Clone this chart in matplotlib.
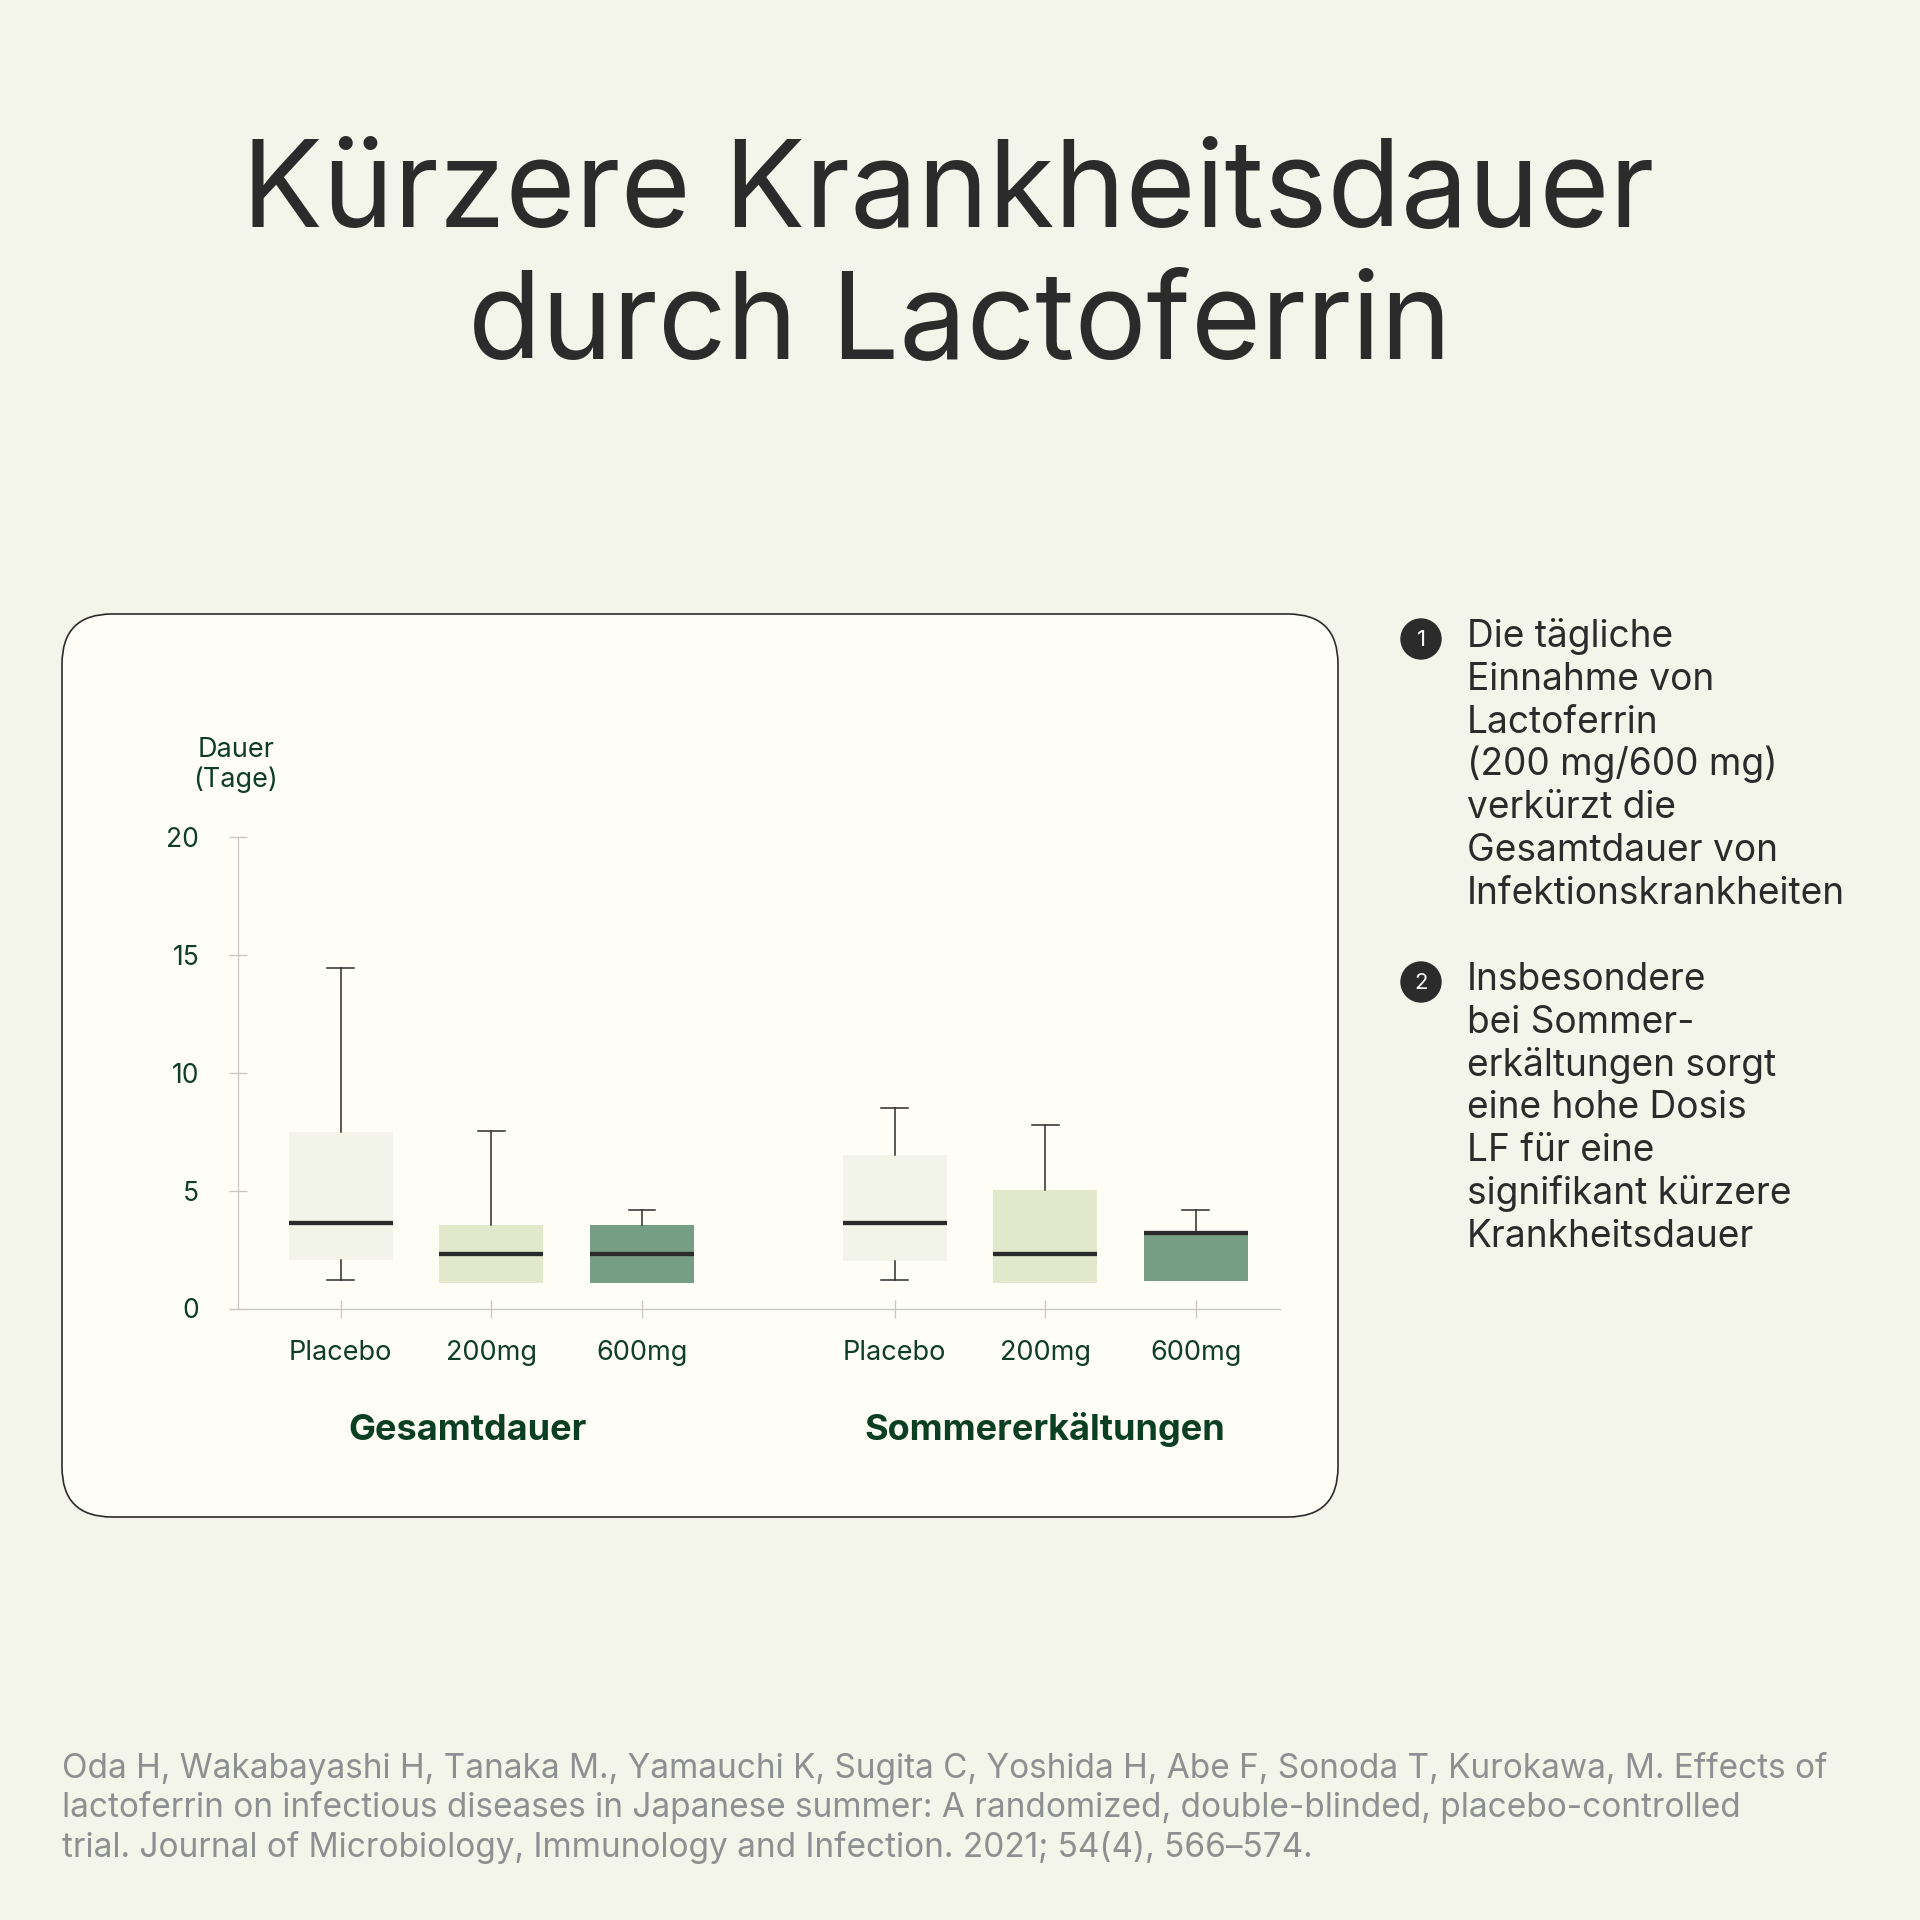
"""Boxplot: Kürzere Krankheitsdauer durch Lactoferrin."""

import matplotlib
import matplotlib.pyplot as plt
from matplotlib.patches import FancyBboxPatch, Circle
from matplotlib.transforms import blended_transform_factory

matplotlib.use("Agg")

plt.rcParams["font.family"] = ["Inter", "DejaVu Sans"]

# --- data -------------------------------------------------------------
groups = ["Gesamtdauer", "Sommererkältungen"]
doses = ["Placebo", "200mg", "600mg"]
whisker_low = [1.2, 1.1, 1.1, 1.2, 1.1, 1.15]
q1 = [2.05, 1.1, 1.1, 2.0, 1.1, 1.15]
median = [3.65, 2.3, 2.3, 3.65, 2.3, 3.2]
q3 = [7.5, 3.55, 3.55, 6.5, 5.05, 3.25]
whisker_high = [14.45, 7.55, 4.2, 8.5, 7.8, 4.2]
y_ticks = [0, 5, 10, 15, 20]

title_lines = ["Kürzere Krankheitsdauer", "durch Lactoferrin"]
notes = [
    ["Die tägliche", "Einnahme von", "Lactoferrin", "(200 mg/600 mg)",
     "verkürzt die", "Gesamtdauer von", "Infektionskrankheiten"],
    ["Insbesondere", "bei Sommer-", "erkältungen sorgt", "eine hohe Dosis",
     "LF für eine", "signifikant kürzere", "Krankheitsdauer"],
]
citation = [
    "Oda H, Wakabayashi H, Tanaka M., Yamauchi K, Sugita C, Yoshida H, Abe F, Sonoda T, Kurokawa, M. Effects of",
    "lactoferrin on infectious diseases in Japanese summer: A randomized, double-blinded, placebo-controlled",
    "trial. Journal of Microbiology, Immunology and Infection. 2021; 54(4), 566–574.",
]

# --- style ------------------------------------------------------------
BG = "#F3F4EA"
CARD = "#FEFEF6"
DARK = "#2B2B2B"
GREEN_TEXT = "#0F3D28"
AXIS = "#C6C6C4"
BOX_COLORS = ["#F3F4E9", "#E1E8CB", "#769E84"]
GREY_TEXT = "#8E8F91"

W = H = 1920
fig = plt.figure(figsize=(W / 100, H / 100), dpi=100)
fig.patch.set_facecolor(BG)

# background layer in pixel coordinates (y downwards)
bg = fig.add_axes([0, 0, 1, 1])
bg.set_xlim(0, W)
bg.set_ylim(H, 0)
bg.axis("off")

card = FancyBboxPatch((62, 614), 1276, 903,
                      boxstyle="round,pad=0,rounding_size=50",
                      facecolor=CARD, edgecolor=DARK, linewidth=1.2)
bg.add_patch(card)

# title
for i, (line, xc) in enumerate(zip(title_lines, [948, 960])):
    bg.text(xc, 227 + i * 132, line, ha="center", va="baseline",
            fontsize=86.5, color=DARK)

# numbered notes on the right
for k, block in enumerate(notes):
    cy = 639 + k * 343
    bg.add_patch(Circle((1421, cy), 20, color=DARK))
    bg.text(1421, cy + 1, str(k + 1), ha="center", va="center",
            fontsize=16, color="white")
    for j, line in enumerate(block):
        bg.text(1467, cy + 8 + j * 42.8, line, ha="left", va="baseline",
                fontsize=26.7, color=DARK)

# citation
for j, line in enumerate(citation):
    bg.text(62, 1778 + j * 39.3, line, ha="left", va="baseline",
            fontsize=24.0, color=GREY_TEXT)

# y label
bg.text(236, 757, "Dauer", ha="center", va="baseline", fontsize=19.5,
        color=GREEN_TEXT)
bg.text(236, 787, "(Tage)", ha="center", va="baseline", fontsize=19.5,
        color=GREEN_TEXT)

# --- chart ------------------------------------------------------------
positions = [0, 1, 2, 3.68, 4.68, 5.68]
labels = doses * len(groups)
stats = [
    dict(whislo=wl, q1=a, med=m, q3=b, whishi=wh, fliers=[])
    for wl, a, m, b, wh in zip(whisker_low, q1, median, q3, whisker_high)
]

ax = fig.add_axes([238.3 / W, 1 - 1308.5 / H, (1280 - 238.3) / W,
                   (1308.5 - 837.3) / H])
ax.set_facecolor("none")

bp = ax.bxp(stats, positions=positions, widths=0.69, capwidths=0.177,
            patch_artist=True, showfliers=False,
            boxprops=dict(edgecolor="none", linewidth=0),
            medianprops=dict(color=DARK, linewidth=3.1,
                             solid_capstyle="butt"),
            whiskerprops=dict(color=DARK, linewidth=1.1),
            capprops=dict(color=DARK, linewidth=1.1))

for i, box in enumerate(bp["boxes"]):
    box.set_facecolor(BOX_COLORS[i % 3])
    if whisker_low[i] >= q1[i]:
        bp["caps"][2 * i].set_visible(False)

ax.set_xlim(-0.681, 6.24)
ax.set_ylim(0, 20)
ax.set_xticks(positions)
ax.set_xticklabels(labels)
ax.set_yticks(y_ticks)
ax.set_yticklabels([str(t) for t in y_ticks])

for side in ("top", "right"):
    ax.spines[side].set_visible(False)
for side in ("left", "bottom"):
    ax.spines[side].set_color(AXIS)
    ax.spines[side].set_linewidth(0.9)
ax.spines["bottom"].set_bounds(-0.736, 6.24)

ax.tick_params(axis="both", direction="inout", length=12.5, width=0.9,
               color=AXIS, labelcolor=GREEN_TEXT)
ax.tick_params(axis="y", pad=22, labelsize=19)
ax.tick_params(axis="x", pad=16.5, labelsize=19.5)

# group labels under the categories
group_centers = [0.84, 4.68]
trans = blended_transform_factory(ax.transData, bg.transData)
for name, xc in zip(groups, group_centers):
    bg.text(xc, 1440, name, transform=trans, ha="center", va="baseline",
            fontsize=26, fontweight="bold", color="#0B3F22")

fig.savefig("out.png", dpi=100, facecolor=BG)
